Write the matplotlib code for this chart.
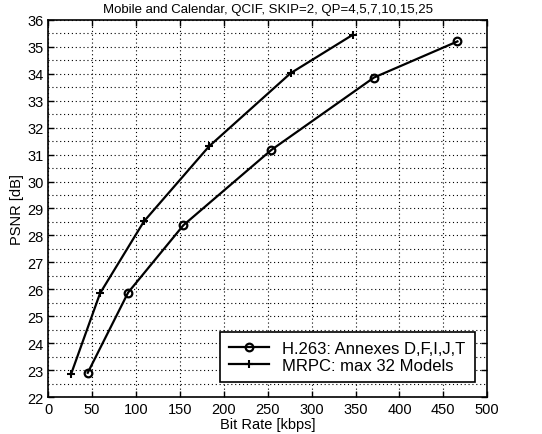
import numpy as np
import matplotlib.pyplot as plt

plt.rcParams['font.family'] = ['Liberation Sans', 'DejaVu Sans']

# Data
h263_rate = [45, 91, 154, 254, 371, 466]
h263_psnr = [22.9, 25.88, 28.38, 31.17, 33.86, 35.2]

mrpc_rate = [26, 59, 109, 183, 276, 347]
mrpc_psnr = [22.85, 25.85, 28.52, 31.3, 34.02, 35.45]

xticks = np.arange(0, 501, 50)
yticks = np.arange(22, 37, 1)

fig = plt.figure(figsize=(5.42, 4.35), dpi=100)
ax = fig.add_axes([0.089, 0.085, 0.81, 0.867])

ax.plot(h263_rate, h263_psnr, '-o', color='black', linewidth=1.6,
        markersize=5.5, markerfacecolor='none', markeredgewidth=1.6,
        label="H.263: Annexes D,F,I,J,T")
ax.plot(mrpc_rate, mrpc_psnr, '-+', color='black', linewidth=1.6,
        markersize=6, markeredgewidth=1.5,
        label="MRPC: max 32 Models")

ax.set_xlim(0, 500)
ax.set_ylim(22, 36)
ax.set_xticks(xticks)
ax.set_yticks(yticks)
ax.set_yticks(np.arange(22.5, 36, 1), minor=True)
ax.tick_params(which='both', direction='in', top=True, right=True, labelsize=10.5)
ax.tick_params(which='major', length=4, width=1)
ax.tick_params(which='minor', length=0)
ax.grid(True, which='both', linestyle=(0, (1, 2.5)), color='black', linewidth=0.8)
for s in ax.spines.values():
    s.set_linewidth(1.2)

ax.set_title("Mobile and Calendar, QCIF, SKIP=2, QP=4,5,7,10,15,25", fontsize=9.5, pad=6)
ax.set_xlabel("Bit Rate [kbps]", fontsize=10.5, labelpad=1)
ax.set_ylabel("PSNR [dB]", fontsize=10.5, labelpad=2)

leg = ax.legend(loc='lower right', bbox_to_anchor=(0.99, 0.018), fontsize=12,
                fancybox=False, framealpha=1, edgecolor='black',
                handlelength=2.4, borderpad=0.55, labelspacing=0.1)
leg.get_frame().set_linewidth(1.2)

fig.savefig("out.png", dpi=100)
